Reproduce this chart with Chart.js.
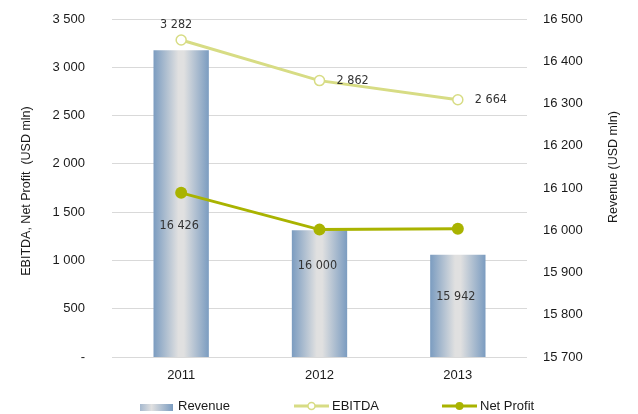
<!DOCTYPE html>
<html>
<head>
<meta charset="utf-8">
<script src="https://cdn.jsdelivr.net/npm/chart.js@4/dist/chart.umd.min.js"></script>
<style>
html,body{margin:0;padding:0;background:#fff;}
#wrap{width:638px;height:414px;position:relative;}
</style>
</head>
<body>
<div id="wrap"><canvas id="c"></canvas></div>
<script>
const categories = ['2011', '2012', '2013'];
const revenue = [16426, 16000, 15942];
const ebitda = [3282, 2862, 2664];
const netProfit = [1700, 1319, 1329];
const seriesNames = ['Revenue', 'EBITDA', 'Net Profit'];
const leftTitle = 'EBITDA, Net Profit  (USD mln)';
const rightTitle = 'Revenue (USD mln)';

const BLUE = '#7b9cc0';
const LIGHT = '#e0e0e0';
const EBITDA_C = '#d7dc84';
const NP_C = '#a9b300';
const TXT = '#1a1a1a';
const TICK_FONT = {family: "'Liberation Sans', Arial, sans-serif", size: 13};
const LABEL_FONT = "12.5px 'DejaVu Sans', sans-serif";

function fmt(n){ return String(n).replace(/\B(?=(\d{3})+(?!\d))/g, ' '); }

function barGradient(ctx, x0, x1){
  const g = ctx.createLinearGradient(x0, 0, x1, 0);
  g.addColorStop(0, BLUE);
  g.addColorStop(0.45, LIGHT);
  g.addColorStop(0.55, LIGHT);
  g.addColorStop(1, BLUE);
  return g;
}

const BAR_PCT = 0.4;

// label placement style (offsets in px)
const ebitdaLabelPlace = [{dx:-5, dy:-15, align:'center'}, {dx:17, dy:0, align:'left'}, {dx:17, dy:0, align:'left'}];
const revLabelOffset = [175, 35, 42];

const labelsPlugin = {
  id: 'dlabels',
  afterDatasetsDraw(chart){
    const ctx = chart.ctx;
    ctx.save();
    ctx.font = LABEL_FONT;
    try { ctx.fontStretch = 'condensed'; } catch(e) {}
    ctx.fillStyle = '#333';
    ctx.textBaseline = 'middle';
    const mRev = chart.getDatasetMeta(0);
    mRev.data.forEach((el, i) => {
      ctx.textAlign = 'center';
      ctx.fillText(fmt(revenue[i]), el.x - 2, el.y + revLabelOffset[i]);
    });
    const mE = chart.getDatasetMeta(1);
    mE.data.forEach((el, i) => {
      const p = ebitdaLabelPlace[i];
      ctx.textAlign = p.align;
      ctx.fillText(fmt(ebitda[i]), el.x + p.dx, el.y + p.dy);
    });
    ctx.restore();
  }
};

const decorPlugin = {
  id: 'decor',
  afterDraw(chart){
    const ctx = chart.ctx;
    ctx.save();
    ctx.fillStyle = TXT;
    ctx.font = "12.5px 'Liberation Sans', Arial, sans-serif";
    ctx.textAlign = 'center';
    ctx.textBaseline = 'middle';
    // axis titles
    ctx.save(); ctx.translate(27, 191); ctx.rotate(-Math.PI/2); ctx.fillText(leftTitle, 0, 0); ctx.restore();
    ctx.save(); ctx.translate(614, 167); ctx.rotate(-Math.PI/2); ctx.fillText(rightTitle, 0, 0); ctx.restore();
    // legend
    const y = 406;
    ctx.font = "13px 'Liberation Sans', Arial, sans-serif";
    ctx.textAlign = 'left';
    // Revenue
    const lg = ctx.createLinearGradient(140, 0, 173, 0);
    lg.addColorStop(0, '#a6b9cf');
    lg.addColorStop(0.35, LIGHT);
    lg.addColorStop(1, BLUE);
    ctx.fillStyle = lg;
    ctx.fillRect(140, 404, 33, 7);
    ctx.fillStyle = TXT;
    ctx.fillText(seriesNames[0], 178, y);
    // EBITDA
    ctx.strokeStyle = EBITDA_C; ctx.lineWidth = 3;
    ctx.beginPath(); ctx.moveTo(294, y); ctx.lineTo(329, y); ctx.stroke();
    ctx.fillStyle = '#fff'; ctx.lineWidth = 1.5;
    ctx.beginPath(); ctx.arc(311.5, y, 3.5, 0, Math.PI*2); ctx.fill(); ctx.stroke();
    ctx.fillStyle = TXT;
    ctx.fillText(seriesNames[1], 332, y);
    // Net Profit
    ctx.strokeStyle = NP_C; ctx.lineWidth = 3;
    ctx.beginPath(); ctx.moveTo(442, y); ctx.lineTo(477, y); ctx.stroke();
    ctx.fillStyle = NP_C;
    ctx.beginPath(); ctx.arc(459.5, y, 4, 0, Math.PI*2); ctx.fill();
    ctx.fillStyle = TXT;
    ctx.fillText(seriesNames[2], 480, y);
    ctx.restore();
  }
};

new Chart(document.getElementById('c'), {
  data: {
    labels: categories,
    datasets: [
      {
        type: 'bar', label: seriesNames[0], data: revenue, yAxisID: 'yR', order: 3,
        barPercentage: BAR_PCT, categoryPercentage: 1,
        backgroundColor: (c) => {
          const chart = c.chart;
          if (!chart.chartArea || c.dataIndex === undefined) return BLUE;
          const xs = chart.scales.x;
          const cx = xs.getPixelForValue(c.dataIndex);
          const w = chart.chartArea.width / categories.length * BAR_PCT;
          return barGradient(chart.ctx, cx - w/2, cx + w/2);
        },
        borderWidth: 0
      },
      {
        type: 'line', label: seriesNames[1], data: ebitda, yAxisID: 'yL', order: 2,
        borderColor: EBITDA_C, borderWidth: 3, pointRadius: 5, pointHoverRadius: 5,
        pointBackgroundColor: '#fff', pointBorderColor: EBITDA_C, pointBorderWidth: 1.5,
        tension: 0
      },
      {
        type: 'line', label: seriesNames[2], data: netProfit, yAxisID: 'yL', order: 1,
        borderColor: NP_C, borderWidth: 3, pointRadius: 6, pointHoverRadius: 6,
        pointBackgroundColor: NP_C, pointBorderColor: NP_C, pointBorderWidth: 0,
        tension: 0
      }
    ]
  },
  options: {
    responsive: true, maintainAspectRatio: false, animation: false,
    layout: {padding: {top: 19, left: 0, right: 0, bottom: 0}},
    plugins: {legend: {display: false}, tooltip: {enabled: false}},
    scales: {
      x: {
        grid: {display: false, drawTicks: false}, border: {display: false},
        ticks: {font: TICK_FONT, color: TXT, padding: 11},
        afterFit: (s) => { s.height = 57; }
      },
      yL: {
        position: 'left', min: 0, max: 3500,
        grid: {color: '#d9d9d9', drawTicks: true, tickLength: 27, tickColor: 'rgba(0,0,0,0)', lineWidth: 1},
        border: {display: false},
        ticks: {stepSize: 500, font: TICK_FONT, color: TXT, padding: 0,
          callback: (v) => v === 0 ? '-' : fmt(v)},
        afterFit: (s) => { s.width = 112; }
      },
      yR: {
        position: 'right', min: 15700, max: 16500,
        grid: {display: true, drawOnChartArea: false, color: 'rgba(0,0,0,0)', drawTicks: true, tickLength: 16, tickColor: 'rgba(0,0,0,0)'},
        border: {display: false},
        ticks: {stepSize: 100, font: TICK_FONT, color: TXT, padding: 0, callback: (v) => fmt(v)},
        afterFit: (s) => { s.width = 111; }
      }
    }
  },
  plugins: [labelsPlugin, decorPlugin]
});
</script>
</body>
</html>
